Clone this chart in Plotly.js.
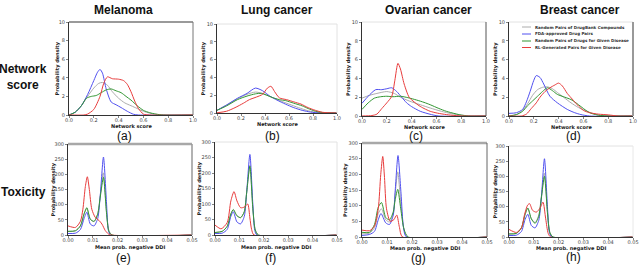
<!DOCTYPE html>
<html>
<head>
<meta charset="utf-8">
<script src="https://cdn.plot.ly/plotly-3.0.1.min.js"></script>
<style>html,body{margin:0;padding:0;background:#fff;}#chart{width:640px;height:267px;}</style>
</head>
<body>
<div id="chart"></div>
<script>
// ---------- labels ----------
const diseases = ["Melanoma", "Lung cancer", "Ovarian cancer", "Breast cancer"];
const rowLabels = ["Network<br>score", "Toxicity"];
const panelLetters = ["(a)", "(b)", "(c)", "(d)", "(e)", "(f)", "(g)", "(h)"];
const seriesNames = ["Random Pairs of DrugBank Compounds", "FDA-approved Drug Pairs",
                     "Random Pairs of Drugs for Given Disease", "RL-Generated Pairs for Given Disease"];
const seriesColors = ["rgb(172,172,172)", "rgb(80,80,240)", "rgb(50,150,50)", "rgb(232,60,60)"];
const netTicks = [0, 0.2, 0.4, 0.6, 0.8, 1.0];
const netYTicks = [0, 2, 4, 6, 8, 10];
const ddiTicks = [0, 0.01, 0.02, 0.03, 0.04, 0.05];
const ddiYTicks = [0, 50, 100, 150, 200, 250, 300];

// ---------- (a) Melanoma, network score ----------
const melGrayX  = [0, 0.05, 0.1, 0.15, 0.2, 0.24, 0.27, 0.31, 0.35, 0.4, 0.45, 0.5, 0.55, 0.6, 0.65, 0.7, 0.78, 1.0];
const melGrayY  = [0, 0.3, 1.0, 2.0, 2.9, 3.4, 3.5, 3.2, 2.5, 1.8, 1.3, 1.0, 0.7, 0.4, 0.2, 0.08, 0, 0];
const melBlueX  = [0, 0.05, 0.1, 0.15, 0.2, 0.23, 0.25, 0.27, 0.3, 0.34, 0.38, 0.42, 0.47, 0.52, 0.56, 1.0];
const melBlueY  = [0, 0.3, 1.0, 2.2, 3.7, 4.6, 4.9, 4.5, 2.8, 1.4, 1.1, 0.8, 0.4, 0.08, 0, 0];
const melGreenX = [0, 0.05, 0.1, 0.14, 0.18, 0.22, 0.26, 0.3, 0.34, 0.38, 0.42, 0.46, 0.5, 0.55, 0.6, 0.65, 0.7, 0.76, 1.0];
const melGreenY = [0, 0.3, 1.0, 1.8, 2.0, 2.1, 2.4, 2.7, 2.8, 2.6, 2.4, 2.0, 1.6, 1.0, 0.5, 0.25, 0.1, 0, 0];
const melRedX   = [0, 0.12, 0.15, 0.2, 0.25, 0.28, 0.31, 0.35, 0.4, 0.44, 0.47, 0.5, 0.53, 0.56, 0.6, 0.65, 1.0];
const melRedY   = [0, 0, 0.1, 0.6, 2.0, 3.4, 4.1, 3.9, 3.85, 3.7, 3.3, 2.5, 1.5, 0.7, 0.1, 0, 0];

// ---------- (b) Lung cancer, network score ----------
const lunGrayX  = [0, 0.08, 0.17, 0.25, 0.32, 0.38, 0.45, 0.52, 0.6, 0.68, 0.76, 0.85, 1.0];
const lunGrayY  = [0.3, 0.9, 1.6, 2.1, 2.35, 2.2, 1.8, 1.4, 1.0, 0.6, 0.25, 0.05, 0];
const lunBlueX  = [0, 0.08, 0.17, 0.25, 0.32, 0.38, 0.44, 0.5, 0.57, 0.64, 0.71, 0.78, 0.86, 1.0];
const lunBlueY  = [0.3, 0.9, 1.65, 2.2, 2.8, 2.5, 1.9, 1.45, 1.0, 0.6, 0.3, 0.1, 0, 0];
const lunGreenX = [0, 0.08, 0.17, 0.25, 0.32, 0.37, 0.46, 0.52, 0.57, 0.64, 0.71, 0.76, 0.82, 0.88, 1.0];
const lunGreenY = [0.3, 0.8, 1.5, 1.9, 2.15, 2.2, 1.75, 1.5, 1.4, 1.1, 0.8, 0.5, 0.2, 0.05, 0];
const lunRedX   = [0, 0.08, 0.15, 0.22, 0.27, 0.33, 0.38, 0.42, 0.45, 0.48, 0.52, 0.58, 0.64, 0.7, 0.76, 0.82, 0.88, 1.0];
const lunRedY   = [0.02, 0.2, 0.6, 1.1, 1.5, 1.8, 2.1, 2.8, 3.0, 2.4, 1.7, 1.5, 1.25, 1.0, 0.6, 0.3, 0.08, 0];

// ---------- (c) Ovarian cancer, network score ----------
const ovaGrayX  = [0, 0.06, 0.12, 0.2, 0.26, 0.31, 0.38, 0.47, 0.55, 0.64, 0.72, 0.8, 0.88, 1.0];
const ovaGrayY  = [1.9, 2.2, 2.4, 2.6, 2.4, 2.0, 1.6, 1.2, 0.85, 0.5, 0.25, 0.1, 0, 0];
const ovaBlueX  = [0, 0.05, 0.11, 0.16, 0.2, 0.24, 0.28, 0.32, 0.36, 0.4, 0.47, 0.56, 0.62, 1.0];
const ovaBlueY  = [1.35, 2.1, 2.8, 2.8, 2.9, 3.0, 2.6, 2.0, 1.4, 1.0, 0.5, 0.15, 0, 0];
const ovaGreenX = [0, 0.05, 0.1, 0.15, 0.2, 0.25, 0.31, 0.37, 0.44, 0.5, 0.55, 0.62, 0.68, 0.75, 0.8, 0.86, 1.0];
const ovaGreenY = [0.7, 1.4, 1.9, 2.05, 2.1, 2.05, 2.1, 1.95, 1.7, 1.45, 1.2, 0.8, 0.5, 0.25, 0.1, 0, 0];
const ovaRedX   = [0, 0.08, 0.12, 0.16, 0.2, 0.24, 0.265, 0.29, 0.31, 0.34, 0.38, 0.42, 0.46, 0.5, 0.55, 0.61, 0.68, 0.75, 0.82, 1.0];
const ovaRedY   = [0, 0.05, 0.2, 0.8, 1.4, 2.1, 3.8, 5.6, 5.0, 3.4, 2.0, 1.5, 1.1, 0.8, 0.5, 0.3, 0.15, 0.05, 0, 0];

// ---------- (d) Breast cancer, network score ----------
const breGrayX  = [0, 0.06, 0.11, 0.15, 0.19, 0.23, 0.27, 0.31, 0.35, 0.39, 0.44, 0.5, 0.56, 0.61, 0.67, 0.72, 0.8, 1.0];
const breGrayY  = [0, 0.15, 0.6, 1.3, 2.2, 2.8, 3.05, 3.1, 2.9, 2.5, 2.0, 1.4, 0.9, 0.6, 0.3, 0.1, 0, 0];
const breBlueX  = [0, 0.06, 0.11, 0.14, 0.17, 0.2, 0.22, 0.25, 0.28, 0.33, 0.39, 0.47, 0.53, 0.58, 0.65, 1.0];
const breBlueY  = [0.28, 0.35, 0.7, 1.5, 2.6, 3.8, 4.3, 4.1, 3.4, 2.1, 1.4, 0.7, 0.35, 0.15, 0, 0];
const breGreenX = [0, 0.06, 0.11, 0.15, 0.19, 0.23, 0.27, 0.31, 0.35, 0.39, 0.45, 0.5, 0.54, 0.58, 0.62, 0.66, 0.74, 1.0];
const breGreenY = [0, 0.15, 0.5, 1.1, 1.6, 2.1, 2.6, 3.0, 2.7, 2.3, 2.0, 1.75, 1.4, 1.0, 0.6, 0.3, 0.05, 0];
const breRedX   = [0, 0.1, 0.14, 0.18, 0.22, 0.25, 0.29, 0.33, 0.37, 0.4, 0.43, 0.47, 0.51, 0.55, 0.6, 0.65, 0.72, 0.8, 0.88, 1.0];
const breRedY   = [0, 0, 0.2, 0.8, 1.4, 2.0, 2.6, 3.0, 3.3, 3.5, 3.2, 2.4, 1.8, 1.2, 0.6, 0.35, 0.2, 0.12, 0, 0];

// ---------- (e) Melanoma, toxicity ----------
const eGrayX  = [0, 0.003, 0.005, 0.0065, 0.0076, 0.009, 0.0105, 0.012, 0.013, 0.0142, 0.0155, 0.0165, 0.0178, 0.05];
const eGrayY  = [12, 14, 30, 70, 88, 52, 44, 70, 130, 205, 80, 15, 0, 0];
const eBlueX  = [0, 0.003, 0.005, 0.0065, 0.0076, 0.009, 0.0105, 0.012, 0.013, 0.0143, 0.0155, 0.0163, 0.0172, 0.05];
const eBlueY  = [5, 6, 18, 55, 75, 36, 30, 55, 130, 257, 110, 15, 0, 0];
const eGreenX = [0, 0.003, 0.005, 0.0065, 0.0076, 0.009, 0.0105, 0.012, 0.013, 0.0143, 0.0155, 0.0165, 0.0178, 0.05];
const eGreenY = [12, 14, 30, 70, 90, 52, 45, 70, 125, 190, 75, 12, 0, 0];
const eRedX   = [0, 0.003, 0.005, 0.006, 0.007, 0.0078, 0.0086, 0.0096, 0.011, 0.0125, 0.0137, 0.015, 0.0162, 0.0172, 0.05];
const eRedY   = [30, 25, 45, 85, 160, 192, 150, 85, 58, 48, 36, 15, 4, 0, 0];

// ---------- (f) Lung cancer, toxicity ----------
const fGrayX  = [0, 0.003, 0.005, 0.0065, 0.0075, 0.009, 0.0105, 0.012, 0.013, 0.0143, 0.0155, 0.0165, 0.0178, 0.05];
const fGrayY  = [8, 12, 28, 68, 82, 62, 56, 75, 140, 225, 90, 18, 0, 0];
const fBlueX  = [0, 0.003, 0.005, 0.0065, 0.0075, 0.009, 0.0105, 0.012, 0.013, 0.0143, 0.0155, 0.0163, 0.0172, 0.05];
const fBlueY  = [5, 6, 18, 60, 75, 42, 36, 60, 140, 260, 100, 15, 0, 0];
const fGreenX = [0, 0.003, 0.005, 0.0065, 0.0075, 0.009, 0.0105, 0.012, 0.013, 0.0143, 0.0155, 0.0165, 0.0178, 0.05];
const fGreenY = [8, 12, 28, 68, 82, 62, 56, 75, 138, 222, 85, 16, 0, 0];
const fRedX   = [0, 0.0025, 0.005, 0.0065, 0.0078, 0.009, 0.0105, 0.012, 0.0134, 0.0143, 0.015, 0.016, 0.05];
const fRedY   = [32, 20, 40, 110, 140, 110, 88, 90, 100, 55, 18, 0, 0];

// ---------- (g) Ovarian cancer, toxicity ----------
const gGrayX  = [0, 0.003, 0.005, 0.0065, 0.0078, 0.0095, 0.011, 0.0125, 0.0133, 0.0143, 0.0155, 0.0168, 0.018, 0.05];
const gGrayY  = [10, 12, 30, 75, 90, 55, 48, 75, 140, 208, 110, 25, 0, 0];
const gBlueX  = [0, 0.003, 0.005, 0.0065, 0.0076, 0.0095, 0.011, 0.0125, 0.0133, 0.0144, 0.0156, 0.0166, 0.0178, 0.05];
const gBlueY  = [5, 8, 18, 55, 75, 45, 40, 70, 150, 260, 140, 30, 0, 0];
const gGreenX = [0, 0.003, 0.005, 0.0065, 0.0078, 0.0095, 0.011, 0.0125, 0.0133, 0.0143, 0.0155, 0.0168, 0.0185, 0.05];
const gGreenY = [15, 15, 40, 95, 110, 62, 55, 80, 120, 152, 90, 25, 0, 0];
const gRedX   = [0, 0.003, 0.005, 0.0065, 0.0075, 0.0083, 0.009, 0.0098, 0.0113, 0.0127, 0.0139, 0.015, 0.0162, 0.05];
const gRedY   = [22, 20, 35, 90, 200, 257, 190, 90, 50, 55, 70, 30, 0, 0];

// ---------- (h) Breast cancer, toxicity ----------
const hGrayX  = [0, 0.003, 0.005, 0.0065, 0.0076, 0.009, 0.0105, 0.012, 0.013, 0.0143, 0.0155, 0.0165, 0.0178, 0.05];
const hGrayY  = [10, 12, 30, 75, 95, 60, 48, 72, 130, 210, 85, 15, 0, 0];
const hBlueX  = [0, 0.003, 0.005, 0.0065, 0.0076, 0.009, 0.0105, 0.012, 0.013, 0.0143, 0.0155, 0.0163, 0.0173, 0.05];
const hBlueY  = [5, 6, 18, 58, 75, 38, 30, 55, 125, 258, 100, 15, 0, 0];
const hGreenX = [0, 0.003, 0.005, 0.0065, 0.0076, 0.009, 0.0105, 0.012, 0.013, 0.0143, 0.0155, 0.0165, 0.0178, 0.05];
const hGreenY = [10, 12, 30, 75, 95, 60, 45, 68, 125, 200, 80, 14, 0, 0];
const hRedX   = [0, 0.003, 0.005, 0.0063, 0.0075, 0.0083, 0.0095, 0.011, 0.0125, 0.0137, 0.0148, 0.0158, 0.0168, 0.05];
const hRedY   = [25, 15, 30, 75, 105, 110, 88, 82, 95, 115, 60, 12, 0, 0];

const panelSeries = [
  [[melGrayX, melGrayY], [melBlueX, melBlueY], [melGreenX, melGreenY], [melRedX, melRedY]],
  [[lunGrayX, lunGrayY], [lunBlueX, lunBlueY], [lunGreenX, lunGreenY], [lunRedX, lunRedY]],
  [[ovaGrayX, ovaGrayY], [ovaBlueX, ovaBlueY], [ovaGreenX, ovaGreenY], [ovaRedX, ovaRedY]],
  [[breGrayX, breGrayY], [breBlueX, breBlueY], [breGreenX, breGreenY], [breRedX, breRedY]],
  [[eGrayX, eGrayY], [eBlueX, eBlueY], [eGreenX, eGreenY], [eRedX, eRedY]],
  [[fGrayX, fGrayY], [fBlueX, fBlueY], [fGreenX, fGreenY], [fRedX, fRedY]],
  [[gGrayX, gGrayY], [gBlueX, gBlueY], [gGreenX, gGreenY], [gRedX, gRedY]],
  [[hGrayX, hGrayY], [hBlueX, hBlueY], [hGreenX, hGreenY], [hRedX, hRedY]]
];

// ---------- layout geometry (pixels) ----------
const W = 640, H = 267;
const boxes = [ // [left, right, top, bottom]
  [69, 193, 22, 115], [217, 337, 24, 113], [362, 486, 22, 116], [509, 633, 22, 116],
  [68, 192, 144, 235], [215, 337, 142, 235], [362, 487, 143, 237], [509, 633, 146, 237]
];
// top / right frame styles per panel: [topColor, topWidth, rightColor, rightWidth]
const frames = [
  ["#9a9a9a", 2, "#777", 1], ["#e2e2e2", 1, "#e2e2e2", 1], ["#e2e2e2", 1, "#555", 1], ["#e2e2e2", 1, "#999", 2],
  ["#a8a8a8", 2.5, "#999", 1.5], ["#e2e2e2", 1, "#e2e2e2", 1], ["#a8a8a8", 2.5, "#666", 1], ["#e2e2e2", 1, "#e8e8e8", 1]
];
const px = x => x / W;
const py = y => 1 - y / H;

const tickFont = {family: "DejaVu Sans", size: 5, color: "#444"};
const titleFont = {family: "DejaVu Sans", size: 5, color: "#222", weight: "bold"};

const data = [];
const layout = {
  width: W, height: H,
  margin: {l: 0, r: 0, t: 0, b: 0},
  paper_bgcolor: "#fff", plot_bgcolor: "#fff",
  showlegend: false,
  annotations: [], shapes: []
};

const xTitleY = [126, 124.5, 127, 127, 247, 247, 249, 249];
const yTitleX = [57, 203, 349, 496, 53, 199, 345, 495];

boxes.forEach((b, i) => {
  const n = i + 1;
  const xa = "xaxis" + (n === 1 ? "" : n), ya = "yaxis" + (n === 1 ? "" : n);
  const xr = "x" + (n === 1 ? "" : n), yr = "y" + (n === 1 ? "" : n);
  const top = i < 4;
  layout[xa] = {
    domain: [px(b[0]), px(b[1])], anchor: yr,
    range: top ? [0, 1] : [0, 0.05],
    tickvals: top ? netTicks : ddiTicks,
    tickformat: top ? ".1f" : ".2f",
    showline: true, linecolor: "#333", linewidth: 1,
    ticks: "outside", ticklen: 2, tickwidth: 0.6, tickcolor: "#333",
    ticklabelstandoff: -2,
    tickfont: tickFont, showgrid: false, zeroline: false, fixedrange: true
  };
  layout[ya] = {
    domain: [py(b[3]), py(b[2])], anchor: xr,
    range: top ? [0, 10] : [0, 300],
    tickvals: top ? netYTicks : ddiYTicks,
    showline: true, linecolor: "#333", linewidth: 1,
    ticks: "outside", ticklen: 2, tickwidth: 0.6, tickcolor: "#333",
    tickfont: tickFont, showgrid: false, zeroline: false, fixedrange: true
  };
  panelSeries[i].forEach((s, k) => {
    data.push({
      x: s[0], y: s[1], xaxis: xr, yaxis: yr, type: "scatter", mode: "lines",
      name: seriesNames[k], hoverinfo: "skip",
      line: {color: seriesColors[k], width: 1, shape: "spline", smoothing: 0.7}
    });
  });
  const f = frames[i];
  layout.shapes.push({type: "line", xref: "paper", yref: "paper",
    x0: px(b[0]), x1: px(b[1]), y0: py(b[2]), y1: py(b[2]), line: {color: f[0], width: f[1]}});
  layout.shapes.push({type: "line", xref: "paper", yref: "paper",
    x0: px(b[1]), x1: px(b[1]), y0: py(b[3]), y1: py(b[2]), line: {color: f[2], width: f[3]}});
  // axis titles
  layout.annotations.push({
    xref: "paper", yref: "paper", x: px((b[0] + b[1]) / 2), y: py(xTitleY[i]),
    text: top ? "Network score" : "Mean prob. negative DDI", showarrow: false,
    font: titleFont, xanchor: "center", yanchor: "middle"
  });
  layout.annotations.push({
    xref: "paper", yref: "paper", x: px(yTitleX[i]), y: py((b[2] + b[3]) / 2),
    text: "Probability density", showarrow: false, textangle: -90,
    font: titleFont, xanchor: "center", yanchor: "middle"
  });
});

// column titles
const colCenters = [123, 277, 428, 580];
diseases.forEach((d, i) => {
  layout.annotations.push({xref: "paper", yref: "paper", x: px(colCenters[i]), y: py(10),
    text: d, showarrow: false, xanchor: "center", yanchor: "middle",
    font: {family: "Liberation Sans", size: 12, color: "#111", weight: "bold"}});
});
// row labels
layout.annotations.push({xref: "paper", yref: "paper", x: px(23), y: py(77), text: rowLabels[0],
  showarrow: false, xanchor: "center", yanchor: "middle",
  font: {family: "Liberation Sans", size: 12, color: "#111", weight: "bold"}});
layout.annotations.push({xref: "paper", yref: "paper", x: px(23), y: py(192), text: rowLabels[1],
  showarrow: false, xanchor: "center", yanchor: "middle",
  font: {family: "Liberation Sans", size: 12, color: "#111", weight: "bold"}});
// panel letters
const letterPos = [[124, 136], [272, 136], [416, 136], [573, 136], [123, 258], [270, 258], [418, 258], [573, 257]];
panelLetters.forEach((t, i) => {
  layout.annotations.push({xref: "paper", yref: "paper", x: px(letterPos[i][0]), y: py(letterPos[i][1]),
    text: t, showarrow: false, xanchor: "center", yanchor: "middle",
    font: {family: "Liberation Sans", size: 12, color: "#111"}});
});
// legend (inside panel d)
const legY = [27, 34, 41, 47.5];
seriesNames.forEach((nm, k) => {
  layout.shapes.push({type: "line", xref: "paper", yref: "paper",
    x0: px(522), x1: px(531), y0: py(legY[k]), y1: py(legY[k]),
    line: {color: seriesColors[k], width: 1}});
  layout.annotations.push({xref: "paper", yref: "paper", x: px(533), y: py(legY[k]),
    text: nm, showarrow: false, xanchor: "left", yanchor: "middle",
    font: {family: "DejaVu Sans", size: 4.05, color: "#333", weight: "bold"}});
});

Plotly.newPlot("chart", data, layout, {staticPlot: true, displayModeBar: false});
</script>
</body>
</html>
